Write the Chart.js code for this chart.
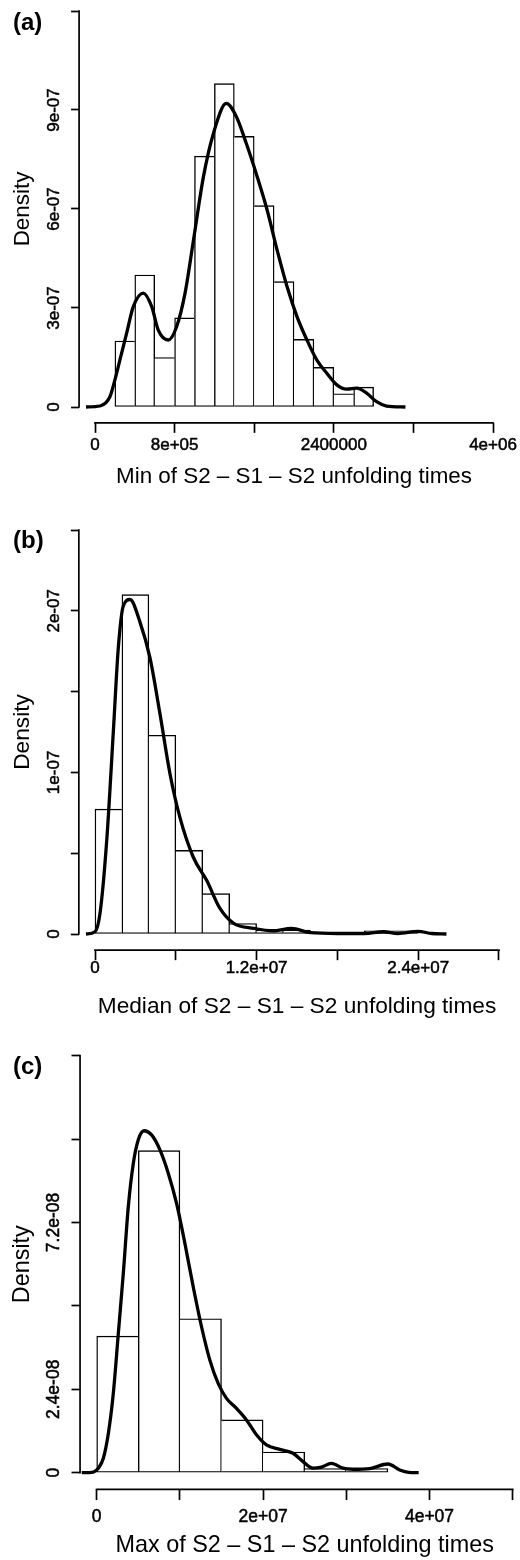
<!DOCTYPE html>
<html><head><meta charset="utf-8">
<script src="https://cdn.jsdelivr.net/npm/chart.js@4.4.1/dist/chart.umd.min.js"></script>
<style>
html,body{margin:0;padding:0;background:#fff;}
body{width:520px;height:1560px;overflow:hidden;position:relative;}
canvas{position:absolute;left:0;}
</style></head><body>
<canvas id="ca"></canvas><canvas id="cb"></canvas><canvas id="cc"></canvas>
<script>
// ---------------- DATA ----------------
// (a) Min of S2-S1-S2 unfolding times
const binStartA = [2e5,4e5,6e5,8e5,1.0e6,1.2e6,1.4e6,1.6e6,1.8e6,2.0e6,2.2e6,2.4e6,2.6e6];
const binWidthA = 2e5;
const histA = [2.0e-7,4.0e-7,1.5e-7,2.7e-7,7.6e-7,9.8e-7,8.2e-7,6.1e-7,3.8e-7,2.05e-7,1.2e-7,4.0e-8,6.0e-8];
const kdeXA = [-9e4,5e4,1.5e5,2e5,2.5e5,3.18e5,3.85e5,4.85e5,5.7e5,6.36e5,7.37e5,8.2e5,9.05e5,9.9e5,1.09e6,1.19e6,1.32e6,1.42e6,1.52e6,1.63e6,1.73e6,1.83e6,1.93e6,2.03e6,2.13e6,2.23e6,2.33e6,2.43e6,2.53e6,2.63e6,2.73e6,2.83e6,2.93e6,3.12e6];
const kdeYA = [0,3e-9,3.1e-8,8.2e-8,1.42e-7,2.24e-7,3.04e-7,3.45e-7,3.04e-7,2.33e-7,2.03e-7,2.43e-7,3.45e-7,5.06e-7,6.98e-7,8.29e-7,9.2e-7,8.8e-7,7.99e-7,6.98e-7,5.97e-7,4.76e-7,3.65e-7,2.74e-7,2.03e-7,1.42e-7,1.02e-7,6.7e-8,5.4e-8,5.7e-8,4.2e-8,1.6e-8,3e-9,0];
const xTicksA = [0,8e5,1.6e6,2.4e6,3.2e6,4e6];
const xTickLabelsA = ['0','8e+05','','2400000','','4e+06'];
const yTicksA = [0,3e-7,6e-7,9e-7,1.2e-6];
const yTickLabelsA = ['0','3e-07','6e-07','9e-07',''];

// (b) Median of S2-S1-S2 unfolding times
const binStartB = [0,2e6,4e6,6e6,8e6,10e6,12e6,14e6,16e6,18e6,20e6,22e6];
const binWidthB = 2e6;
const histB = [7.73e-8,2.10e-7,1.23e-7,5.17e-8,2.5e-8,6.5e-9,2.5e-9,2.5e-9,0,0,2e-9,2e-9];
const kdeXB = [-6.7e5,0,3.7e5,8.7e5,1.36e6,1.73e6,2.1e6,2.6e6,3.34e6,4.08e6,4.83e6,5.57e6,6.31e6,7.3e6,8.29e6,9.28e6,1.03e7,1.18e7,1.32e7,1.46e7,1.6e7,1.8e7,2.0e7,2.14e7,2.25e7,2.4e7,2.5e7,2.61e7];
const kdeYB = [0,1.4e-9,1.27e-8,5.78e-8,1.25e-7,1.77e-7,2.03e-7,2.07e-7,1.93e-7,1.71e-7,1.36e-7,9.9e-8,7.2e-8,4.75e-8,3.32e-8,1.58e-8,6.6e-9,3.5e-9,2e-9,3.5e-9,8e-10,3e-10,3e-10,1.4e-9,3e-10,1.6e-9,3e-10,0];
const xTicksB = [0,6e6,1.2e7,1.8e7,2.4e7,3e7];
const xTickLabelsB = ['0','','1.2e+07','','2.4e+07',''];
const yTicksB = [0,5e-8,1e-7,1.5e-7,2e-7,2.5e-7];
const yTickLabelsB = ['0','','1e-07','','2e-07',''];

// (c) Max of S2-S1-S2 unfolding times
const binStartC = [0,5e6,10e6,15e6,20e6,25e6,30e6];
const binWidthC = 5e6;
const histC = [3.93e-8,9.27e-8,4.43e-8,1.52e-8,5.95e-9,1.2e-9,1.2e-9];
const kdeXC = [-1.8e6,-4e5,1.9e5,7.9e5,1.4e6,2.0e6,2.6e6,3.2e6,3.8e6,4.4e6,5.0e6,5.69e6,6.6e6,7.6e6,8.6e6,9.6e6,1.06e7,1.16e7,1.26e7,1.36e7,1.46e7,1.56e7,1.68e7,1.8e7,1.92e7,2.04e7,2.2e7,2.36e7,2.48e7,2.6e7,2.7e7,2.82e7,2.96e7,3.08e7,3.28e7,3.5e7,3.65e7,3.75e7,3.87e7];
const kdeYC = [0,2e-10,1.3e-9,4.1e-9,1.13e-8,2.29e-8,4.01e-8,5.74e-8,7.66e-8,8.9e-8,9.58e-8,9.84e-8,9.72e-8,9.29e-8,8.62e-8,7.75e-8,6.6e-8,5.35e-8,4.2e-8,3.24e-8,2.57e-8,2.14e-8,1.85e-8,1.52e-8,1.09e-8,8.0e-9,6.7e-9,5.6e-9,3.2e-9,1.3e-9,1.6e-9,2.7e-9,1.3e-9,1.0e-9,1.2e-9,2.5e-9,7e-10,1e-10,0];
const xTicksC = [0,1e7,2e7,3e7,4e7,5e7];
const xTickLabelsC = ['0','','2e+07','','4e+07',''];
const yTicksC = [0,2.4e-8,4.8e-8,7.2e-8,9.6e-8,1.2e-7];
const yTickLabelsC = ['0','2.4e-08','','7.2e-08','',''];

// ---------------- LAYOUT / STYLE ----------------
const FONT = '"Liberation Sans", Arial, Helvetica, sans-serif';
Chart.defaults.font.family = FONT;
Chart.defaults.color = '#000';

const panels = [
  {id:'ca', tag:'(a)', xTitle:'Min of S2 \u2013 S1 \u2013 S2 unfolding times',
   binStart:binStartA, binWidth:binWidthA, hist:histA, kdeX:kdeXA, kdeY:kdeYA,
   xTicks:xTicksA, xLabels:xTickLabelsA, yTicks:yTicksA, yLabels:yTickLabelsA,
   xPx:[95,493], yPx:[407,11], cTop:-10, cBot:493, tickLen:10, xLabC:445, titleC:476.7,
   tickFont:17, titleFont:22.4, tagX:13, tagY:30},
  {id:'cb', tag:'(b)', xTitle:'Median of S2 \u2013 S1 \u2013 S2 unfolding times',
   binStart:binStartB, binWidth:binWidthB, hist:histB, kdeX:kdeXB, kdeY:kdeYB,
   xTicks:xTicksB, xLabels:xTickLabelsB, yTicks:yTicksB, yLabels:yTickLabelsB,
   xPx:[95,499], yPx:[934,530], cTop:495, cBot:1022, tickLen:10, xLabC:968, titleC:1007,
   tickFont:17, titleFont:22.7, tagX:13, tagY:548},
  {id:'cc', tag:'(c)', xTitle:'Max of S2 \u2013 S1 \u2013 S2 unfolding times',
   binStart:binStartC, binWidth:binWidthC, hist:histC, kdeX:kdeXC, kdeY:kdeYC,
   xTicks:xTicksC, xLabels:xTickLabelsC, yTicks:yTicksC, yLabels:yTickLabelsC,
   xPx:[96.7,512.7], yPx:[1472.7,1055.7], cTop:1025, cBot:1560, tickLen:10.7, xLabC:1516.7, titleC:1545.7,
   tickFont:17.5, titleFont:23.4, tagX:13, tagY:1074}
];
const CW = 560;
const AXW = 1.7;
const yLabelX = 54.5;
const densityX = 23;
const TXT_STROKE = 0.5;

function makePanel(p){
  const cv = document.getElementById(p.id);
  const H = p.cBot - p.cTop;
  cv.width = CW; cv.height = H;
  cv.style.top = p.cTop + 'px';
  cv.style.width = CW + 'px'; cv.style.height = H + 'px';

  const ex = 0.04*(p.xPx[1]-p.xPx[0]);
  const ey = 0.04*(p.yPx[0]-p.yPx[1]);
  const plotL = p.xPx[0]-ex, plotR = p.xPx[1]+ex;
  const plotB = p.yPx[0]+ey, plotT = p.yPx[1]-ey;
  const xT0 = p.xTicks[0], xT1 = p.xTicks[p.xTicks.length-1];
  const yT0 = p.yTicks[0], yT1 = p.yTicks[p.yTicks.length-1];
  const xMin = xT0-0.04*(xT1-xT0), xMax = xT1+0.04*(xT1-xT0);
  const yMin = yT0-0.04*(yT1-yT0), yMax = yT1+0.04*(yT1-yT0);

  const xScaleH = p.cBot - plotB;
  const tickLH = p.tickFont*1.2;
  const xPad = p.xLabC - plotB - p.tickLen - tickLH/2;
  const titleLH = p.titleFont*1.2;
  const titlePadB = p.cBot - titleLH/2 - p.titleC;
  const yTitlePadT = densityX - titleLH/2;

  const n = p.hist.length;
  const h = p.hist;
  const bars = h.map((v,i)=>({x:p.binStart[i]+p.binWidth/2, y:v}));
  const kde = p.kdeX.map((x,i)=>({x:x, y:p.kdeY[i]}));

  const rPlugin = {
    id:'rpanel_'+p.id,
    afterDraw(chart){
      const ctx = chart.ctx, xs = chart.scales.x, ys = chart.scales.y, ca = chart.chartArea;
      ctx.save();
      ctx.strokeStyle = '#000'; ctx.lineWidth = AXW; ctx.lineCap = 'butt';
      // x axis line (first tick to last tick)
      ctx.beginPath();
      ctx.moveTo(xs.getPixelForValue(xT0)-AXW/2, ca.bottom);
      ctx.lineTo(xs.getPixelForValue(xT1)+AXW/2, ca.bottom);
      ctx.stroke();
      // y axis line
      ctx.beginPath();
      ctx.moveTo(ca.left, ys.getPixelForValue(yT0)+AXW/2);
      ctx.lineTo(ca.left, ys.getPixelForValue(yT1)-AXW/2);
      ctx.stroke();
      // y tick labels (rotated, R style)
      ctx.fillStyle = '#000';
      ctx.lineWidth = TXT_STROKE;
      ctx.font = p.tickFont + 'px ' + FONT;
      ctx.textAlign = 'center'; ctx.textBaseline = 'middle';
      p.yTicks.forEach((v,i)=>{
        const lab = p.yLabels[i];
        if(!lab) return;
        const y = ys.getPixelForValue(v);
        ctx.save();
        ctx.translate(yLabelX, y);
        ctx.rotate(-Math.PI/2);
        ctx.strokeText(lab, 0, 0);
        ctx.fillText(lab, 0, 0);
        ctx.restore();
      });
      // panel tag
      ctx.font = 'bold 24px ' + FONT;
      ctx.textAlign = 'left'; ctx.textBaseline = 'alphabetic';
      ctx.fillText(p.tag, p.tagX, p.tagY - p.cTop);
      ctx.restore();
    }
  };

  const bw = 1.4;
  // each shared bin edge is drawn once, by the taller of the two neighbouring bars
  const sideWidths = (i)=>{
    const prev = i>0 ? h[i-1] : -1;
    const next = i<n-1 ? h[i+1] : -1;
    return {top:bw, bottom:bw,
            left: (h[i] > prev) ? bw : 0,
            right: (h[i] >= next) ? bw : 0};
  };

  new Chart(cv, {
    type:'bar',
    data:{datasets:[
      {type:'line', label:'density', data:kde, borderColor:'#000', borderWidth:3.3,
       pointRadius:0, fill:false, cubicInterpolationMode:'monotone', order:0},
      {type:'bar', label:'histogram', data:bars, backgroundColor:'#fff', borderColor:'#000',
       borderSkipped:false, barPercentage:1, categoryPercentage:1, grouped:false, order:1,
       borderWidth:(c)=>sideWidths(c.dataIndex)}
    ]},
    options:{
      responsive:false, maintainAspectRatio:false, animation:false, devicePixelRatio:1,
      layout:{padding:{left:0, right:CW-plotR, top:plotT-p.cTop, bottom:0}},
      plugins:{legend:{display:false}, tooltip:{enabled:false}, title:{display:false}},
      scales:{
        x:{type:'linear', min:xMin, max:xMax, offset:false,
           afterBuildTicks:(s)=>{ s.ticks = p.xTicks.map(v=>({value:v})); },
           afterFit:(s)=>{ s.height = xScaleH; },
           ticks:{autoSkip:false, maxRotation:0, minRotation:0, padding:xPad, color:'#000',
                  textStrokeColor:'#000', textStrokeWidth:TXT_STROKE,
                  font:{size:p.tickFont}, callback:(v,i)=>p.xLabels[i]},
           grid:{display:true, offset:false, drawOnChartArea:false, drawTicks:true, tickLength:p.tickLen,
                 tickWidth:AXW, tickColor:'#000', color:'#000'},
           border:{display:false},
           title:{display:true, text:p.xTitle, color:'#000', font:{size:p.titleFont},
                  padding:{top:0, bottom:titlePadB}}},
        y:{type:'linear', min:yMin, max:yMax, offset:false,
           afterBuildTicks:(s)=>{ s.ticks = p.yTicks.map(v=>({value:v})); },
           afterFit:(s)=>{ s.width = plotL; },
           ticks:{display:false},
           grid:{display:true, offset:false, drawOnChartArea:false, drawTicks:true, tickLength:p.tickLen*0.8,
                 tickWidth:AXW, tickColor:'#000', color:'#000'},
           border:{display:false},
           title:{display:true, text:'Density', color:'#000', font:{size:p.titleFont},
                  padding:{top:yTitlePadT, bottom:0}}}
      }
    },
    plugins:[rPlugin]
  });
}
panels.forEach(makePanel);
</script>
</body></html>
